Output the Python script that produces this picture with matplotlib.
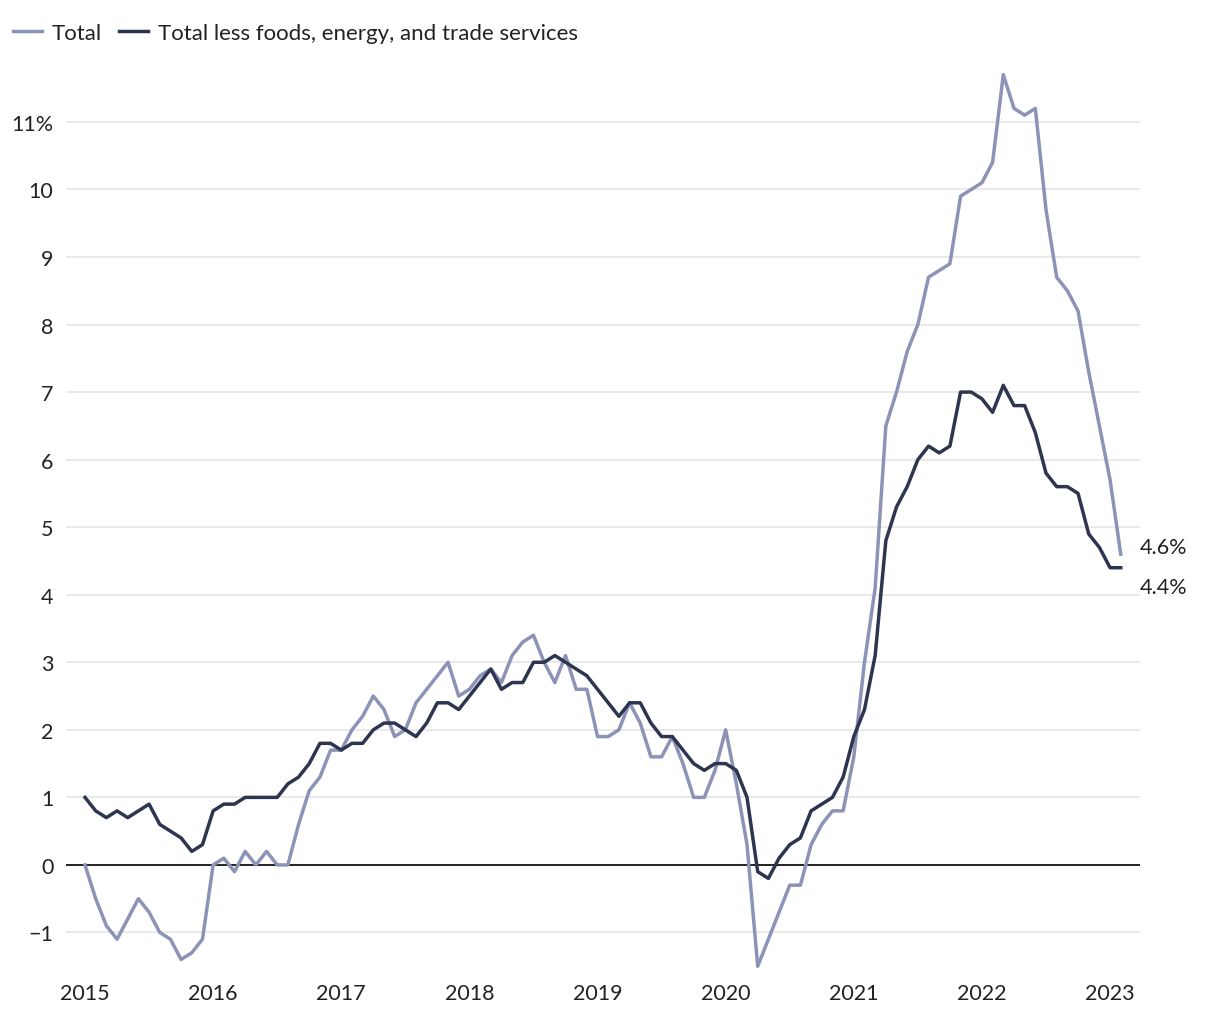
import matplotlib
matplotlib.use("Agg")
import matplotlib.pyplot as plt
import numpy as np

plt.rcParams['font.family'] = ['Lato', 'DejaVu Sans']

# monthly year-over-year change, Jan 2015 - Feb 2023
total = [0.0, -0.5, -0.9, -1.1, -0.8, -0.5, -0.7, -1.0, -1.1, -1.4, -1.3, -1.1,
         0.0, 0.1, -0.1, 0.2, 0.0, 0.2, 0.0, 0.0, 0.6, 1.1, 1.3, 1.7,
         1.7, 2.0, 2.2, 2.5, 2.3, 1.9, 2.0, 2.4, 2.6, 2.8, 3.0, 2.5,
         2.6, 2.8, 2.9, 2.7, 3.1, 3.3, 3.4, 3.0, 2.7, 3.1, 2.6, 2.6,
         1.9, 1.9, 2.0, 2.4, 2.1, 1.6, 1.6, 1.9, 1.5, 1.0, 1.0, 1.4,
         2.0, 1.2, 0.3, -1.5, -1.1, -0.7, -0.3, -0.3, 0.3, 0.6, 0.8, 0.8,
         1.6, 3.0, 4.1, 6.5, 7.0, 7.6, 8.0, 8.7, 8.8, 8.9, 9.9, 10.0,
         10.1, 10.4, 11.7, 11.2, 11.1, 11.2, 9.7, 8.7, 8.5, 8.2, 7.3, 6.5,
         5.7, 4.6]

core = [1.0, 0.8, 0.7, 0.8, 0.7, 0.8, 0.9, 0.6, 0.5, 0.4, 0.2, 0.3,
        0.8, 0.9, 0.9, 1.0, 1.0, 1.0, 1.0, 1.2, 1.3, 1.5, 1.8, 1.8,
        1.7, 1.8, 1.8, 2.0, 2.1, 2.1, 2.0, 1.9, 2.1, 2.4, 2.4, 2.3,
        2.5, 2.7, 2.9, 2.6, 2.7, 2.7, 3.0, 3.0, 3.1, 3.0, 2.9, 2.8,
        2.6, 2.4, 2.2, 2.4, 2.4, 2.1, 1.9, 1.9, 1.7, 1.5, 1.4, 1.5,
        1.5, 1.4, 1.0, -0.1, -0.2, 0.1, 0.3, 0.4, 0.8, 0.9, 1.0, 1.3,
        1.9, 2.3, 3.1, 4.8, 5.3, 5.6, 6.0, 6.2, 6.1, 6.2, 7.0, 7.0,
        6.9, 6.7, 7.1, 6.8, 6.8, 6.4, 5.8, 5.6, 5.6, 5.5, 4.9, 4.7,
        4.4, 4.4]

years = ['2015', '2016', '2017', '2018', '2019', '2020', '2021', '2022', '2023']
yticks = [-1, 0, 1, 2, 3, 4, 5, 6, 7, 8, 9, 10, 11]

light = '#8c93b6'
dark = '#2d3550'
txt = '#222222'
fs = 15.5

months = np.arange(len(total))

fig = plt.figure(figsize=(12.2, 10.2), dpi=100)
ax = fig.add_axes([0.0541, 0.0451, 0.8803, 0.8874])

for y in yticks:
    if y == 0:
        ax.axhline(0, color='#222222', lw=1.4, zorder=2)
    else:
        ax.axhline(y, color='#e3e3e3', lw=1.1, zorder=1)

l1, = ax.plot(months, total, color=light, lw=2.5, zorder=3, label='Total')
l2, = ax.plot(months, core, color=dark, lw=2.5, zorder=4,
              label='Total less foods, energy, and trade services')

ax.set_xlim(-1.78, 98.8)
ax.set_ylim(-1.6, 11.8)

ax.set_xticks(np.arange(len(years)) * 12)
ax.set_xticklabels(years)
ax.set_yticks(yticks)
ax.set_yticklabels([str(y).replace('-', '\u2212') if y != 11 else '11%' for y in yticks])
ax.tick_params(axis='both', length=0, labelsize=fs, colors=txt)
ax.tick_params(axis='y', pad=9)
ax.tick_params(axis='x', pad=7)

for s in ax.spines.values():
    s.set_visible(False)

ax.annotate(f'{total[-1]:.1f}%', xy=(months[-1], total[-1]), xytext=(14, 5),
            textcoords='offset points', va='center', ha='left', fontsize=fs, color=txt)
ax.annotate(f'{core[-1]:.1f}%', xy=(months[-1], core[-1]), xytext=(14, -14),
            textcoords='offset points', va='center', ha='left', fontsize=fs, color=txt)

fig.legend(handles=[l1, l2], loc='upper left', bbox_to_anchor=(-0.006, 0.996),
           ncol=2, frameon=False, fontsize=16, handlelength=1.3,
           handletextpad=0.45, columnspacing=0.8, labelcolor=txt)

fig.savefig('out.png', dpi=100)
